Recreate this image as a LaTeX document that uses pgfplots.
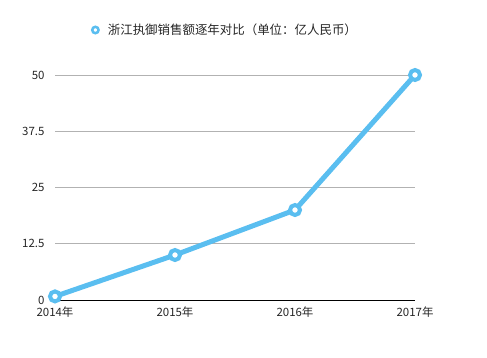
\documentclass[border=0pt]{standalone}
\usepackage{pgfplots}
\pgfplotsset{compat=1.18}
\usepackage{fontspec}
\setmainfont{Noto Sans CJK SC}
\definecolor{lineblue}{RGB}{90,190,240}
\begin{document}
\begin{tikzpicture}[x=1bp,y=1bp]
\path[use as bounding box] (0,0) rectangle (487,357);
\begin{axis}[
  at={(55bp,57bp)}, anchor=origin,
  scale only axis, width=360bp, height=225bp,
  xmin=0, xmax=3, ymin=0, ymax=50,
  xtick={0,1,2,3}, xticklabels={2014年,2015年,2016年,2017年},
  ytick={0,12.5,25,37.5,50},
  yticklabels={0,12.5,25,37.5,50},
  axis x line*=bottom, axis y line*=left,
  x axis line style={black, line width=0.8pt, -},
  y axis line style={draw=none},
  major tick length=0pt,
  ymajorgrids, grid style={gray!60, line width=0.6pt},
  tick label style={font=\fontsize{11.5}{12}\selectfont, text=black!85},
  xticklabel style={yshift=-3bp},
  yticklabel style={xshift=-7bp},
  clip=false,
  legend style={at={(0.091,1.2)}, anchor=west, draw=none, fill=none,
    font=\fontsize{12.5}{14}\selectfont, text=black!85,
    /tikz/every odd column/.append style={column sep=6bp}},
  legend image code/.code={\draw[lineblue, line width=2.5bp, fill=white] (0,0) circle (3.2bp);},
]
\addplot[lineblue, line width=5bp, mark=*, mark options={draw=lineblue, fill=white, line width=4bp}, mark size=5bp]
 coordinates {(0,0.8) (1,10) (2,20) (3,50)};
\addlegendentry{浙江执御销售额逐年对比（单位：亿人民币）}
\end{axis}
\end{tikzpicture}
\end{document}
